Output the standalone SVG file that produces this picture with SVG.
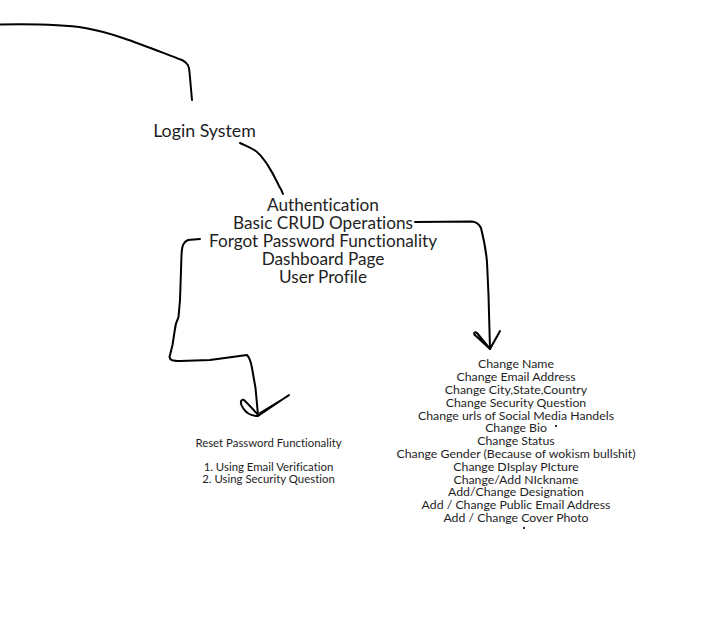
<svg xmlns="http://www.w3.org/2000/svg" width="705" height="628" viewBox="0 0 705 628">
<style>
.t{font-family:Lato,"Noto Sans",sans-serif;fill:#1e1e1e;text-anchor:middle;font-variant-ligatures:none}
.big{font-size:17.2px}
.mid{font-size:12.3px}
.sm{font-size:11.4px}
.c{fill:none;stroke:#000;stroke-width:2;stroke-linecap:round;stroke-linejoin:round}
</style>
<rect width="705" height="628" fill="#fff"/>
<g id="connectors">
<path class="c" d="M0,24.5 C30,24 60,24 85,28 C115,33 150,48 182,60 C188,63 189,66 189.5,72 L192,100"/>
<path class="c" d="M240,143 C246,146 252,148 257,152 C262,156 264,160 267,164 C270,169 272,172 274,176 C276,180 278,183 279,186 C281,189 282,191 283,194"/>
<path class="c" d="M415,222 L472,221.5 C477,222 479,224 481,228 C484,240 486,250 487,262 L488.5,295 L490,349"/>
<path class="c" d="M490,349 L477,333 C474,331 473,334 476,336 L490,349 M490,349 L500,331 M491,347 L499,333"/>
<path class="c" d="M200,239 L188,240 C183,242 182,246 181.5,255 L180,300 L178.5,317 C176,322 175,326 174.5,332 L172.5,345 L169.5,357 C170,360 172,361 180,361 L210,360 L247,355 C250,358 251,362 252,368 L255.5,388 L258,415"/>
<path class="c" d="M258,415 C254,410 249,405 244,400 C240,399 240,404 243,408 C246,413 251,416 258,416 L289,395 M260,413 L288,396"/>
</g>
<g id="login-system"><text class="t big" x="204.5" y="136.7" style="font-size:17.8px">Login System</text></g>
<g id="features">
<text class="t big" x="323" y="210.5">Authentication</text>
<text class="t big" x="323" y="228.5">Basic CRUD Operations</text>
<text class="t big" x="323" y="246.5">Forgot Password Functionality</text>
<text class="t big" x="323" y="264.5">Dashboard Page</text>
<text class="t big" x="323" y="282.5">User Profile</text>
</g>
<g id="reset-password">
<text class="t sm" x="268.5" y="446.7">Reset Password Functionality</text>
<text class="t sm" x="268.5" y="470.7">1. Using Email Verification</text>
<text class="t sm" x="268.5" y="482.7">2. Using Security Question</text>
</g>
<g id="profile-options">
<text class="t mid" x="516" y="368.3">Change Name</text>
<text class="t mid" x="516" y="381.1">Change Email Address</text>
<text class="t mid" x="516" y="393.9">Change City,State,Country</text>
<text class="t mid" x="516" y="406.7">Change Security Question</text>
<text class="t mid" x="516" y="419.5">Change urls of Social Media Handels</text>
<text class="t mid" x="516" y="432.3">Change Bio</text>
<text class="t mid" x="516" y="445.1">Change Status</text>
<text class="t mid" x="516" y="457.9">Change Gender (Because of wokism bullshit)</text>
<text class="t mid" x="516" y="470.7">Change DIsplay PIcture</text>
<text class="t mid" x="516" y="483.5">Change/Add  NIckname</text>
<text class="t mid" x="516" y="496.3">Add/Change Designation</text>
<text class="t mid" x="516" y="509.1">Add / Change Public Email Address</text>
<text class="t mid" x="516" y="521.9">Add / Change Cover Photo</text>
<circle cx="556" cy="426" r="1.1" fill="#000"/>
<circle cx="524" cy="528" r="1.1" fill="#000"/>
</g>
</svg>
